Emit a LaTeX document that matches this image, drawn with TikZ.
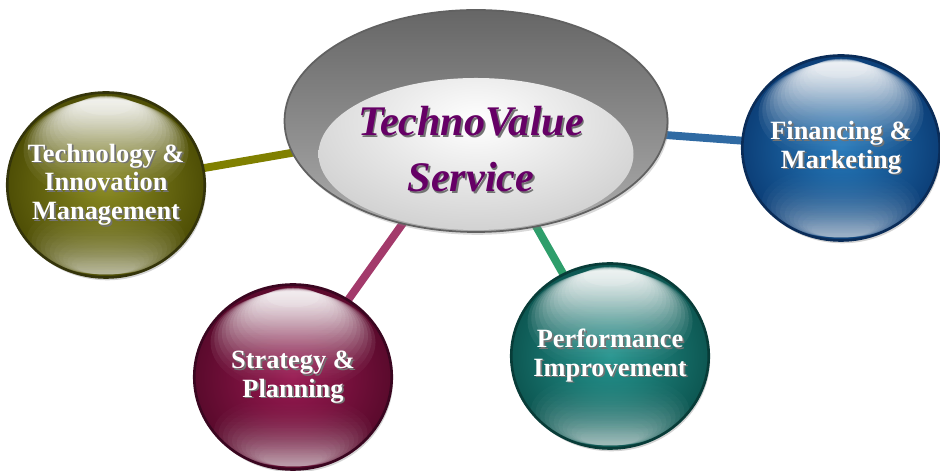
\documentclass[tikz,border=0pt]{standalone}
\usepackage{fontspec}
\setmainfont{Liberation Serif}
\usetikzlibrary{shapes.geometric,fadings,shadows}
\pgfdeclarelayer{bg}
\pgfsetlayers{bg,main}
\tikzfading[name=myfadedown, top color=transparent!0, bottom color=transparent!100]
\tikzfading[name=myfadeup, top color=transparent!100, bottom color=transparent!0]
\newcommand\shtx[1]{\leavevmode\rlap{\kern1pt\raisebox{-1pt}{\textcolor{black!55}{#1}}}#1}
\newcommand\balltext[2][0pt]{\makebox[0pt]{\raisebox{#1}{\begin{tabular}{@{}c@{}}#2\end{tabular}}}}
\definecolor{olvI}{HTML}{8A8A22}\definecolor{olvO}{HTML}{4E4E05}\definecolor{olvD}{HTML}{34340A}\definecolor{olvL}{HTML}{808000}
\definecolor{magI}{HTML}{981850}\definecolor{magO}{HTML}{5A0A2C}\definecolor{magD}{HTML}{3A0620}\definecolor{magL}{HTML}{A33A6B}
\definecolor{tealI}{HTML}{24948E}\definecolor{tealO}{HTML}{0D5752}\definecolor{tealD}{HTML}{083C38}\definecolor{tealL}{HTML}{2E9E6B}
\definecolor{bluI}{HTML}{2478BA}\definecolor{bluO}{HTML}{0C3F78}\definecolor{bluD}{HTML}{0A2C58}\definecolor{bluL}{HTML}{2F6AA3}
\definecolor{tvpurple}{HTML}{660066}
\tikzset{
  ball/.style n args={3}{ellipse, minimum width=3.95cm, minimum height=3.7cm, inner sep=0pt,
    draw=#3, line width=1.5pt, inner color=#1, outer color=#2, text=white,
    font=\bfseries\fontsize{15}{16.3}\selectfont,
    drop shadow={opacity=0.35, shadow xshift=0.8pt, shadow yshift=-1.6pt},
    path picture={
      \foreach \k in {1,...,16}{
        \fill[white, fill opacity=0.16, path fading=myfadedown]
          ([yshift={-(0.2+0.06*\k)*1cm}]path picture bounding box.north)
          ellipse ({(0.45+0.075*\k)*1cm} and {(0.14+0.055*\k)*1cm});
      }
      \foreach \k in {1,...,12}{
        \fill[white, fill opacity=0.08, path fading=myfadeup]
          ([yshift={(0.18+0.05*\k)*1cm}]path picture bounding box.south)
          ellipse ({(0.5+0.09*\k)*1cm} and {(0.12+0.05*\k)*1cm});
      }
    }},
  conn/.style={line width=4.5pt, draw=#1},
  hub/.style={ellipse, minimum width=7.66cm, minimum height=4.44cm, inner sep=0pt,
    draw=black!62, line width=1pt, top color=black!60, bottom color=black!32,
    drop shadow={opacity=0.3, shadow xshift=0.8pt, shadow yshift=-1.6pt},
    path picture={
      \shade[inner color=white, outer color=black!18]
        ([yshift=-0.66cm]path picture bounding box.center) ellipse (3.15cm and 1.52cm);
    }},
  hubtext/.style={text=tvpurple, align=center,
    font=\bfseries\itshape\fontsize{24}{32}\selectfont}
}
\begin{document}
\begin{tikzpicture}
\useasboundingbox (0,0) rectangle (18.8,9.42);
\node[hub] (tv) at (9.52,7.0) {};
\node[hubtext] (tvt) at (9.42,6.42) {\shtx{TechnoValue}\\\shtx{Service}};
\node[ball={olvI}{olvO}{olvD}] (tim) at (2.12,5.72) {\balltext[-0.05cm]{\shtx{Technology \&}\\\shtx{Innovation}\\\shtx{Management}}};
\node[ball={magI}{magO}{magD}] (sp) at (5.86,1.88) {\balltext[0.18cm]{\shtx{Strategy \&}\\\shtx{Planning}}};
\node[ball={tealI}{tealO}{tealD}] (pi) at (12.2,2.3) {\balltext{\shtx{Performance}\\\shtx{Improvement}}};
\node[ball={bluI}{bluO}{bluD}] (fm) at (16.82,6.46) {\balltext{\shtx{Financing \&}\\\shtx{Marketing}}};
\begin{pgfonlayer}{bg}
\draw[conn=olvL] (tv.center) -- (tim.center);
\draw[conn=magL] (tv.center) -- (sp.center);
\draw[conn=tealL] (tv.center) -- (pi.center);
\draw[conn=bluL] (tv.center) -- (fm.center);
\end{pgfonlayer}
\end{tikzpicture}
\end{document}
